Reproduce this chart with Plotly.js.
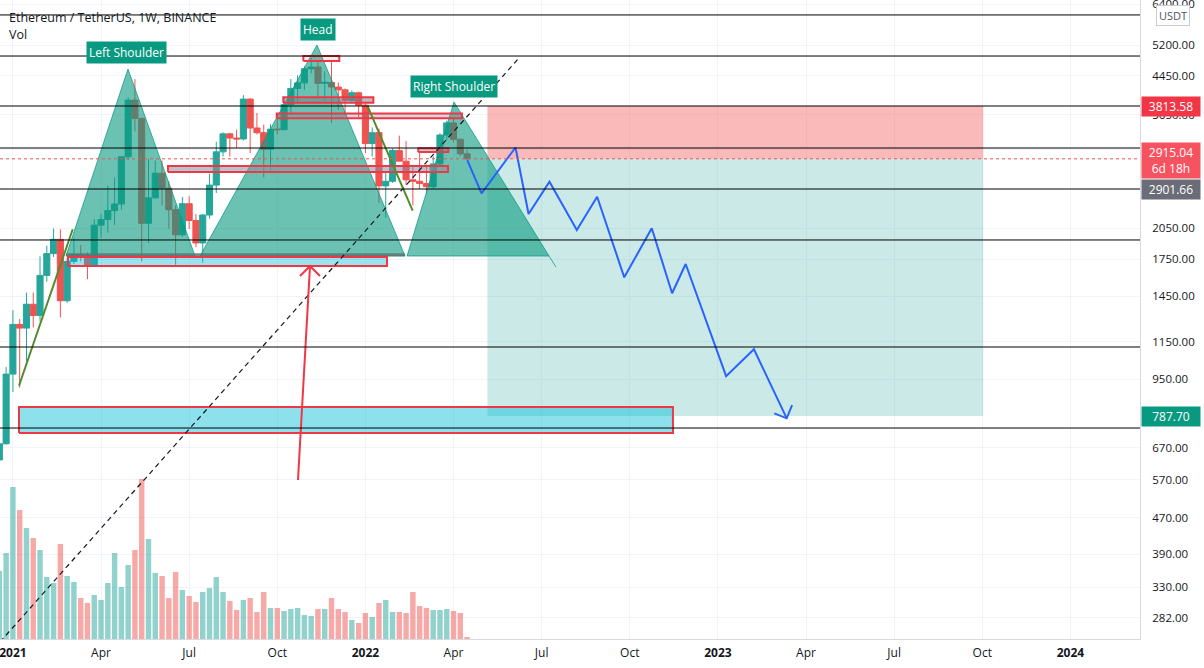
<!DOCTYPE html>
<html>
<head>
<meta charset="utf-8">
<script src="https://cdn.plot.ly/plotly-3.0.1.min.js"></script>
<style>
html, body { margin: 0; padding: 0; background: #ffffff; }
#chart { width: 1204px; height: 668px; }
</style>
</head>
<body>
<div id="chart"></div>
<script>
// weekly ETH/USDT candles
const weeks = [
  '2020-12-21','2020-12-28','2021-01-04','2021-01-11','2021-01-18','2021-01-25','2021-02-01','2021-02-08',
  '2021-02-15','2021-02-22','2021-03-01','2021-03-08','2021-03-15','2021-03-22','2021-03-29','2021-04-05',
  '2021-04-12','2021-04-19','2021-04-26','2021-05-03','2021-05-10','2021-05-17','2021-05-24','2021-05-31',
  '2021-06-07','2021-06-14','2021-06-21','2021-06-28','2021-07-05','2021-07-12','2021-07-19','2021-07-26',
  '2021-08-02','2021-08-09','2021-08-16','2021-08-23','2021-08-30','2021-09-06','2021-09-13','2021-09-20',
  '2021-09-27','2021-10-04','2021-10-11','2021-10-18','2021-10-25','2021-11-01','2021-11-08','2021-11-15',
  '2021-11-22','2021-11-29','2021-12-06','2021-12-13','2021-12-20','2021-12-27','2022-01-03','2022-01-10',
  '2022-01-17','2022-01-24','2022-01-31','2022-02-07','2022-02-14','2022-02-21','2022-02-28','2022-03-07',
  '2022-03-14','2022-03-21','2022-03-28','2022-04-04','2022-04-11','2022-04-18'
];
const opens = [
  630, 684, 975, 1255, 1232, 1391, 1314, 1611, 1800, 1935, 1416, 1730, 1791, 1782, 1690, 2080,
  2140, 2240, 2316, 2945, 3930, 3580, 2100, 2390, 2710, 2510, 2250, 1980, 2320, 2130, 1900, 2190,
  2550, 3020, 3310, 3240, 3225, 3950, 3410, 3330, 3060, 3390, 3380, 3840, 4170, 4290, 4610, 4650,
  4280, 4300, 4200, 4140, 3920, 4080, 3830, 3150, 3330, 2540, 2600, 3040, 2880, 2620, 2600, 2570,
  2530, 2840, 3290, 3500, 3220, 2990
];
const highs = [
  690, 1011, 1350, 1290, 1476, 1476, 1775, 1875, 2045, 2036, 1760, 1943, 1880, 1810, 2145, 2200,
  2545, 2650, 2950, 3985, 4372, 3600, 2910, 2890, 2890, 2600, 2300, 2400, 2410, 2200, 2200, 2700,
  3180, 3335, 3330, 3380, 4030, 3970, 3680, 3470, 3475, 3650, 3970, 4375, 4460, 4670, 4868, 4770,
  4550, 4780, 4300, 4170, 4130, 4100, 3880, 3420, 3400, 2730, 3070, 3280, 3190, 2800, 3030, 2830,
  2950, 3320, 3540, 3600, 3230, 3050
];
const lows = [
  550, 681, 890, 910, 1040, 1236, 1274, 1560, 1770, 1300, 1400, 1706, 1730, 1580, 1690, 1950,
  2000, 2080, 2250, 2900, 3350, 1730, 1900, 2380, 2300, 2040, 1700, 1960, 2040, 1860, 1718, 2150,
  2450, 2950, 2950, 3080, 3200, 3000, 3300, 2650, 2740, 3300, 3380, 3680, 3900, 4140, 4500, 3980,
  3920, 3500, 3740, 3640, 3880, 3600, 3000, 2950, 2330, 2160, 2580, 2880, 2550, 2300, 2500, 2450,
  2500, 2800, 3200, 3170, 2950, 2900
];
const closes = [
  684, 975, 1255, 1232, 1391, 1314, 1611, 1800, 1935, 1416, 1730, 1791, 1782, 1690, 2080, 2140,
  2240, 2316, 2945, 3930, 3580, 2100, 2390, 2710, 2510, 2250, 1980, 2320, 2130, 1900, 2190, 2550,
  3020, 3310, 3240, 3225, 3950, 3410, 3330, 3060, 3390, 3380, 3840, 4170, 4290, 4610, 4650, 4280,
  4300, 4200, 4140, 3920, 4080, 3830, 3150, 3330, 2540, 2600, 3040, 2880, 2620, 2600, 2570, 2530,
  2840, 3290, 3500, 3220, 2990, 2915.04
];
// volume, millions of ETH
const volumes = [
  6.8, 8.6, 15.2, 12.9, 11.1, 10.1, 8.9, 6.2, 5.6, 9.5, 6.3, 5.7, 4.1, 3.6, 4.4, 3.9,
  5.6, 8.6, 5.2, 7.4, 8.9, 16.0, 10.0, 6.6, 6.3, 4.1, 6.7, 4.9, 4.3, 3.7, 4.7, 5.1,
  6.2, 4.7, 3.8, 2.9, 3.9, 4.1, 2.7, 4.7, 3.1, 3.1, 2.8, 3.0, 3.1, 2.4, 2.3, 3.0,
  3.0, 4.1, 3.0, 2.7, 1.9, 1.6, 2.6, 2.2, 3.6, 3.9, 2.7, 2.7, 2.6, 4.7, 3.3, 3.1,
  2.9, 2.9, 3.0, 2.8, 2.6, 0.2
];

// price axis
const priceTicks = [282, 330, 390, 470, 570, 670, 950, 1150, 1450, 1750, 2050, 3050, 3650, 4450, 5200, 6400];
const timeTicks = ['2021-01-04','2021-04-05','2021-07-05','2021-10-04','2022-01-03','2022-04-04','2022-07-04',
                   '2022-10-03','2023-01-02','2023-04-03','2023-07-03','2023-10-02','2024-01-01'];
const timeTickText = ['<b>2021</b>','Apr','Jul','Oct','<b>2022</b>','Apr','Jul','Oct','<b>2023</b>','Apr','Jul','Oct','<b>2024</b>'];

// drawings
const levelLines = [6061, 4918, 3813.58, 3080, 2500, 1929, 1119, 741];
const lastPrice = 2915.04;
const stopPrice = 3813.58;
const targetPrice = 787.70;
const positionDates = ['2022-05-09', '2023-10-03'];

const leftShoulderX = ['2021-02-27 20:00', '2021-05-02 20:00', '2021-07-11 01:00'];
const leftShoulderY = [1778, 4604, 1778];
const headX = ['2021-07-16 05:00', '2021-11-14 00:00', '2022-02-12 22:00'];
const headY = [1778, 5200, 1778];
const rightShoulderX = ['2022-02-15 00:00', '2022-04-04 12:00', '2022-07-11 14:00'];
const rightShoulderY = [1778, 3893, 1778];
const patternTailX = ['2022-07-11 14:00', '2022-07-18 19:00'];
const patternTailY = [1778, 1681];
const necklineX = ['2021-02-27 20:00', '2022-02-12 22:00'];
const necklineY = [1790, 1790];

const boxStarts = ['2021-01-10 07:00', '2021-03-01 21:00', '2021-10-30 22:00', '2021-10-10 05:00', '2021-10-03 10:00', '2021-06-13 04:00', '2022-02-26 14:00'];
const boxEnds   = ['2022-11-16 14:00', '2022-01-25 07:00', '2021-12-07 00:00', '2022-01-11 05:00', '2022-04-12 17:00', '2022-03-29 07:00', '2022-03-29 14:00'];
const boxTops    = [824.6, 1769, 4918, 3987, 3672, 2810, 3075];
const boxBottoms = [722.4, 1690, 4796, 3878, 3583, 2726, 3018];
const boxFills = ['rgba(0,188,212,0.45)', 'rgba(0,188,212,0.4)', 'rgba(239,83,80,0.12)', 'rgba(120,123,134,0.5)',
                  'rgba(120,123,134,0.3)', 'rgba(130,145,160,0.55)', 'rgba(120,123,134,0.4)'];

const trendX = ['2020-12-21 16:00', '2022-06-11 14:00'];
const trendY = [249.5, 4894];
const greenLine1X = ['2021-01-10 07:00', '2021-03-06 18:00'];
const greenLine1Y = [919, 2037];
const greenLine2X = ['2022-01-05 10:00', '2022-02-20 19:00'];
const greenLine2Y = [3800, 2239];
const arrowX = ['2021-10-25 09:00', '2021-11-06 19:00', '2021-10-27 12:00', '2021-11-06 19:00', '2021-11-17 02:00'];
const arrowY = [568.8, 1690, 1606, 1690, 1606];

const pathX = ['2022-04-18 05:00', '2022-05-02 22:00', '2022-06-07 00:00', '2022-06-20 12:00', '2022-07-12 02:00',
               '2022-08-09 07:00', '2022-08-30 07:00', '2022-09-27 07:00', '2022-10-25 17:00', '2022-11-15 17:00',
               '2022-11-29 17:00', '2023-01-10 12:00', '2023-02-08 05:00', '2023-03-14 02:00'];
const pathY = [2897, 2446, 3088, 2202, 2594, 2030, 2404, 1595, 2047, 1471, 1707, 965, 1106, 778.5];
const pathHeadX = ['2023-03-01 05:00', '2023-03-14 02:00', '2023-03-19 14:00'];
const pathHeadY = [798.6, 778.5, 833];

const patternLabels = ['Left Shoulder', 'Head', 'Right Shoulder'];
const patternLabelX = ['2021-05-01 19:00', '2021-11-15 01:00', '2022-04-04 12:00'];
const patternLabelY = [5019, 5641, 4222];

const green = '#26a69a';
const red = '#ef5350';
const textColor = '#131722';
const gridColor = '#f0f3fa';
const fontFamily = 'Open Sans, Liberation Sans, sans-serif';

function polyTrace(xs, ys, fill, lineColor, lineWidth) {
    return {
        x: xs, y: ys, yaxis: 'y2', type: 'scatter', mode: 'lines',
        fill: 'toself', fillcolor: fill,
        line: {color: lineColor, width: lineWidth},
        hoverinfo: 'skip', showlegend: false
    };
}

function lineTrace(xs, ys, color, width, dash) {
    return {
        x: xs, y: ys, yaxis: 'y2', type: 'scatter', mode: 'lines',
        line: {color: color, width: width, dash: dash || 'solid'},
        hoverinfo: 'skip', showlegend: false
    };
}

const traces = [];

// volume, drawn on the hidden bottom axis
traces.push({
    type: 'bar', x: weeks, y: volumes,
    marker: {color: closes.map((c, i) => c >= opens[i] ? 'rgba(38,166,154,0.5)' : 'rgba(239,83,80,0.5)')},
    hoverinfo: 'skip', showlegend: false
});

// position tool
const [p0, p1] = positionDates;
traces.push(polyTrace([p0, p1, p1, p0, p0], [lastPrice, lastPrice, stopPrice, stopPrice, lastPrice],
    'rgba(239,83,80,0.4)', 'rgba(0,0,0,0)', 0));
traces.push(polyTrace([p0, p1, p1, p0, p0], [targetPrice, targetPrice, lastPrice, lastPrice, targetPrice],
    'rgba(38,166,154,0.24)', 'rgba(0,0,0,0)', 0));

traces.push({
    type: 'candlestick', x: weeks, open: opens, high: highs, low: lows, close: closes, yaxis: 'y2',
    increasing: {line: {color: green, width: 1}, fillcolor: green},
    decreasing: {line: {color: red, width: 1}, fillcolor: red},
    whiskerwidth: 0, hoverinfo: 'skip', showlegend: false
});

// head and shoulders
const patternFill = 'rgba(8,153,129,0.6)';
const patternEdge = 'rgba(8,153,129,0.75)';
[[leftShoulderX, leftShoulderY], [headX, headY], [rightShoulderX, rightShoulderY]].forEach(([xs, ys]) => {
    traces.push(polyTrace(xs.concat([xs[0]]), ys.concat([ys[0]]), patternFill, patternEdge, 1));
});
traces.push(lineTrace(patternTailX, patternTailY, patternEdge, 1));
traces.push(lineTrace(necklineX, necklineY, 'rgba(95,115,115,0.85)', 3));

// rectangles
boxStarts.forEach((s, i) => {
    const e = boxEnds[i];
    traces.push(polyTrace([s, e, e, s, s], [boxBottoms[i], boxBottoms[i], boxTops[i], boxTops[i], boxBottoms[i]],
        boxFills[i], '#f23645', 2));
});

traces.push(lineTrace(trendX, trendY, '#131722', 1.2, '5px,4px'));
traces.push(lineTrace(greenLine1X, greenLine1Y, '#558b2f', 2));
traces.push(lineTrace(greenLine2X, greenLine2Y, '#558b2f', 2));
traces.push(lineTrace(arrowX, arrowY, '#f23645', 2));
traces.push(lineTrace(pathX, pathY, '#2962ff', 2));
traces.push(lineTrace(pathHeadX, pathHeadY, '#2962ff', 2));

const shapes = levelLines.map(p => ({
    type: 'line', xref: 'paper', x0: 0, x1: 1, yref: 'y2', y0: p, y1: p,
    line: {color: '#000000', width: 1}
}));
shapes.push({
    type: 'line', xref: 'paper', x0: 0, x1: 1, yref: 'y2', y0: lastPrice, y1: lastPrice,
    line: {color: red, width: 1, dash: 'dot'}
});

function axisLabel(price, text, bg, shift) {
    return {
        xref: 'paper', x: 1, xanchor: 'left', xshift: 1,
        yref: 'y2', y: Math.log10(price), yanchor: 'middle', yshift: shift || 0,
        text: text, showarrow: false, align: 'center', width: 56,
        bgcolor: bg, borderpad: 1,
        font: {family: fontFamily, size: 12, color: '#ffffff'}
    };
}

const annotations = [
    {
        xref: 'paper', x: 0, xanchor: 'left', xshift: 7, yref: 'paper', y: 1, yanchor: 'top', yshift: -7,
        text: 'Ethereum / TetherUS, 1W, BINANCE', showarrow: false,
        font: {family: fontFamily, size: 12.5, color: textColor}
    },
    {
        xref: 'paper', x: 0, xanchor: 'left', xshift: 7, yref: 'paper', y: 1, yanchor: 'top', yshift: -24,
        text: 'Vol', showarrow: false,
        font: {family: fontFamily, size: 12.5, color: textColor}
    },
    {
        xref: 'paper', x: 1, xanchor: 'left', xshift: 16, yref: 'paper', y: 1, yanchor: 'top', yshift: -5,
        text: 'USDT', showarrow: false, bgcolor: '#ffffff', bordercolor: '#c9ccd4', borderwidth: 1, borderpad: 2,
        font: {family: fontFamily, size: 11, color: '#50535e'}
    },
    axisLabel(stopPrice, '3813.58', '#f23645'),
    axisLabel(lastPrice, '2915.04<br>6d 18h', '#f7525f', -2),
    axisLabel(2901.66, '2901.66', '#6a6d78', -30),
    axisLabel(targetPrice, '787.70', '#089981')
];
patternLabels.forEach((t, i) => {
    annotations.push({
        x: patternLabelX[i], y: Math.log10(patternLabelY[i]), xref: 'x', yref: 'y2',
        text: t, showarrow: false, bgcolor: '#089981', borderpad: 2,
        font: {family: fontFamily, size: 12, color: '#ffffff'}
    });
});

const layout = {
    width: 1204, height: 668,
    margin: {l: 0, r: 64, t: 0, b: 29},
    paper_bgcolor: '#ffffff', plot_bgcolor: '#ffffff',
    font: {family: fontFamily, color: textColor},
    showlegend: false, hovermode: false, dragmode: false,
    bargap: 0.2,
    boxgap: 0.1, boxgroupgap: 0,
    xaxis: {
        type: 'date', range: ['2020-12-21 16:00', '2024-03-12 21:00'],
        tickvals: timeTicks, ticktext: timeTickText, ticks: '', ticklabelstandoff: 3,
        ticklabeloverflow: 'allow',
        showgrid: true, gridcolor: gridColor, zeroline: false,
        showline: true, linecolor: '#d6d9e0', linewidth: 1,
        tickfont: {family: fontFamily, size: 12, color: textColor},
        rangeslider: {visible: false}, fixedrange: true
    },
    yaxis: {
        range: [0, 63.9], visible: false, showgrid: false, zeroline: false, fixedrange: true
    },
    yaxis2: {
        type: 'log', overlaying: 'y', side: 'right', anchor: 'x',
        range: [Math.log10(253.3), Math.log10(6540)],
        tickvals: priceTicks, ticktext: priceTicks.map(v => v.toFixed(2)),
        ticks: '', ticklabelstandoff: 9, ticklabeloverflow: 'allow',
        showgrid: true, gridcolor: gridColor, zeroline: false,
        showline: true, linecolor: '#d6d9e0', linewidth: 1,
        tickfont: {family: fontFamily, size: 11.5, color: textColor},
        fixedrange: true
    },
    shapes: shapes,
    annotations: annotations
};

Plotly.newPlot('chart', traces, layout, {displayModeBar: false, staticPlot: true});
</script>
</body>
</html>
